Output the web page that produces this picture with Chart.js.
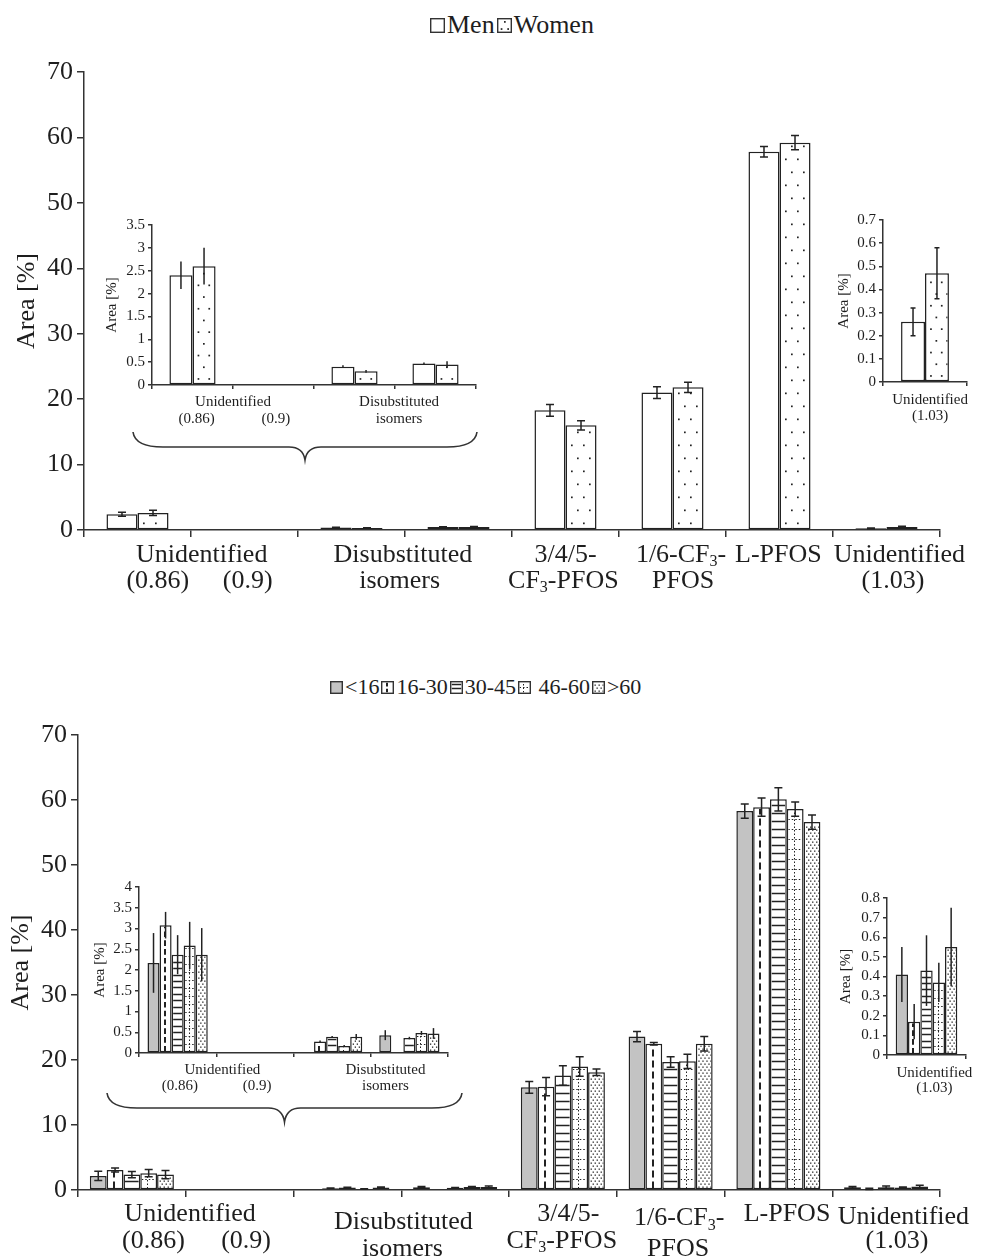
<!DOCTYPE html>
<html>
<head>
<meta charset="utf-8">
<script src="https://cdn.jsdelivr.net/npm/chart.js@4/dist/chart.umd.min.js"></script>
<style>
body { margin:0; background:#fff; width:987px; height:1256px; position:relative; overflow:hidden;
       font-family:"Liberation Serif","Times New Roman",serif; color:#1e1e1e; }
canvas.c { position:absolute; }
.legend { position:absolute; display:flex; align-items:center; white-space:nowrap; line-height:1; }
.legend canvas { margin-right:2px; }
.legend span { margin-right:2px; white-space:pre; }
</style>
</head>
<body>
<div class="legend" id="legTop" style="left:430px;top:12px;font-size:26px"></div>
<div class="legend" id="legBottom" style="left:330px;top:676px;font-size:22px"></div>
<canvas class="c" id="topMain"></canvas>
<canvas class="c" id="topInsetL"></canvas>
<canvas class="c" id="topInsetR"></canvas>
<canvas class="c" id="bottomMain"></canvas>
<canvas class="c" id="bottomInsetL"></canvas>
<canvas class="c" id="bottomInsetR"></canvas>
<script>
// ---- data ----
var categories = ["Unidentified (0.86)", "Unidentified (0.9)", "Disubstituted isomers a", "Disubstituted isomers b",
                  "3/4/5-CF3-PFOS", "1/6-CF3-PFOS", "L-PFOS", "Unidentified (1.03)"];

var sexLabels = ["Men", "Women"];
var menVals   = [2.4, null, 0.40, 0.47, 18.3, 21.0, 57.8, 0.26];
var menErr    = [0.3, null, 0.03, 0.02, 0.9, 0.9, 0.8, 0.06];
var womenVals = [2.6, null, 0.30, 0.45, 16.0, 21.8, 59.2, 0.47];
var womenErr  = [0.4, null, 0.03, 0.07, 0.7, 0.8, 1.1, 0.11];

var ageLabels = ["<16", "16-30", "30-45", " 46-60", ">60"];
var ageLt16   = [2.17, null, null, 0.43, 15.8, 23.6, 58.3, 0.41];
var ageLt16E  = [0.72, null, null, 0.12, 0.9, 0.8, 1.1, 0.14];
var age16_30  = [3.08, null, 0.28, null, 15.9, 22.5, 58.9, 0.17];
var age16_30E = [0.32, null, 0.02, null, 1.4, 0.2, 1.4, 0.09];
var age30_45  = [2.37, null, 0.39, 0.36, 17.6, 19.7, 60.1, 0.43];
var age30_45E = [0.47, null, 0.02, 0.03, 1.5, 0.8, 1.8, 0.18];
var age46_60  = [2.59, null, 0.17, 0.48, 19.0, 19.8, 58.6, 0.37];
var age46_60E = [0.57, null, 0.02, 0.05, 1.5, 1.1, 1.1, 0.10];
var ageGt60   = [2.37, null, 0.39, 0.47, 18.1, 22.5, 56.6, 0.55];
var ageGt60E  = [0.64, null, 0.07, 0.13, 0.5, 1.1, 1.1, 0.20];

// x label layout (at = category index, may be fractional)
var topMainText = [
  {t:"Unidentified", at:0.6, line:0}, {t:"(0.86)", at:0.19, line:1}, {t:"(0.9)", at:1.03, line:1},
  {t:"Disubstituted", at:2.48, line:0}, {t:"isomers", at:2.45, line:1},
  {t:"3/4/5-", at:4.0, line:0}, {t:"CF_3-PFOS", at:3.98, line:1},
  {t:"1/6-CF_3-", at:5.08, line:0}, {t:"PFOS", at:5.1, line:1},
  {t:"L-PFOS", at:5.99, line:0},
  {t:"Unidentified", at:7.12, line:0}, {t:"(1.03)", at:7.06, line:1}
];
var bottomMainText = [
  {t:"Unidentified", at:0.54, line:0}, {t:"(0.86)", at:0.2, line:1}, {t:"(0.9)", at:1.06, line:1},
  {t:"Disubstituted", at:2.52, line:0.3}, {t:"isomers", at:2.51, line:1.3},
  {t:"3/4/5-", at:4.05, line:0}, {t:"CF_3-PFOS", at:3.99, line:1},
  {t:"1/6-CF_3-", at:5.08, line:0.15}, {t:"PFOS", at:5.07, line:1.3},
  {t:"L-PFOS", at:6.08, line:0},
  {t:"Unidentified", at:7.16, line:0.1}, {t:"(1.03)", at:7.1, line:1}
];
var topInsetLText = [
  {t:"Unidentified", at:0.5, line:0}, {t:"(0.86)", at:0.05, line:1}, {t:"(0.9)", at:1.03, line:1},
  {t:"Disubstituted", at:2.55, line:0}, {t:"isomers", at:2.55, line:1}
];
var bottomInsetLText = [
  {t:"Unidentified", at:0.58, line:0}, {t:"(0.86)", at:0.03, line:1}, {t:"(0.9)", at:1.03, line:1},
  {t:"Disubstituted", at:2.69, line:0}, {t:"isomers", at:2.69, line:1}
];
var topInsetRText = [{t:"Unidentified", at:0.06, line:0}, {t:"(1.03)", at:0.06, line:1}];
var bottomInsetRText = [{t:"Unidentified", at:0.1, line:0}, {t:"(1.03)", at:0.1, line:1}];

var FONT = '"Liberation Serif","Times New Roman",serif';
var INK = '#1e1e1e';

// ---- fills ----
function drawHatch(ctx, style, x0, y0, x1, y1, k) {
  k = k || 1;
  var w = x1 - x0, x, y, r;
  if (!style || w <= 0 || y1 - y0 <= 0) return;
  ctx.save();
  ctx.beginPath(); ctx.rect(x0, y0, w, y1 - y0); ctx.clip();
  ctx.fillStyle = '#222'; ctx.strokeStyle = '#222';
  if (style === 'dots') {
    r = 0;
    for (y = y1 - 6 * k; y > y0; y -= 13 * k, r++) {
      for (x = x0 + 4 * k + (r % 2 ? 6 * k : 0); x < x1 - 1; x += 12 * k) ctx.fillRect(x, y, 1.7, 1.7);
    }
  } else if (style === 'dash') {
    ctx.lineWidth = 2; ctx.setLineDash([7 * k, 4 * k]);
    x = Math.round(x0 + w * 0.42);
    ctx.beginPath(); ctx.moveTo(x, y1); ctx.lineTo(x, y0); ctx.stroke();
  } else if (style === 'hlines') {
    ctx.lineWidth = 1.4;
    for (y = y1 - 8 * k; y > y0; y -= 8 * k) {
      ctx.beginPath(); ctx.moveTo(x0, Math.round(y) + 0.5); ctx.lineTo(x1, Math.round(y) + 0.5); ctx.stroke();
    }
  } else if (style === 'grid') {
    ctx.lineWidth = 1; ctx.setLineDash([1.5, 2]);
    for (y = y1 - 10 * k; y > y0; y -= 10 * k) {
      ctx.beginPath(); ctx.moveTo(x0, Math.round(y) + 0.5); ctx.lineTo(x1, Math.round(y) + 0.5); ctx.stroke();
    }
    x = Math.round(x0 + w * 0.38) + 0.5;
    ctx.beginPath(); ctx.moveTo(x, y1); ctx.lineTo(x, y0); ctx.stroke();
  } else if (style === 'checker') {
    r = 0;
    for (y = y1 - 2; y > y0; y -= 3, r++) {
      for (x = x0 + (r % 2 ? 3 : 1); x < x1; x += 4) ctx.fillRect(x, y, 1.3, 1.3);
    }
  }
  ctx.restore();
}

var hatchPlugin = {
  id: 'hatch',
  afterDatasetsDraw: function(chart) {
    var ctx = chart.ctx;
    chart.data.datasets.forEach(function(ds, i) {
      if (!ds.hatch) return;
      chart.getDatasetMeta(i).data.forEach(function(el, j) {
        if (ds.data[j] == null) return;
        var b = ds.borderWidth;
        drawHatch(ctx, ds.hatch, el.x - el.width / 2 + b, Math.min(el.y, el.base) + b,
                  el.x + el.width / 2 - b, Math.max(el.y, el.base) - b / 2, ds.hatchK);
      });
    });
  }
};

function errorPlugin(cap) {
  return {
    id: 'errorBars',
    afterDatasetsDraw: function(chart) {
      var ctx = chart.ctx, ys = chart.scales.y;
      ctx.save(); ctx.strokeStyle = '#222'; ctx.lineWidth = 1.5;
      chart.data.datasets.forEach(function(ds, i) {
        if (!ds.errors) return;
        chart.getDatasetMeta(i).data.forEach(function(el, j) {
          var v = ds.data[j], e = ds.errors[j];
          if (v == null || e == null) return;
          var yt = ys.getPixelForValue(v + e), yb = ys.getPixelForValue(v - e);
          ctx.beginPath();
          ctx.moveTo(el.x, yt); ctx.lineTo(el.x, yb);
          if (cap) {
            ctx.moveTo(el.x - cap / 2, yt); ctx.lineTo(el.x + cap / 2, yt);
            ctx.moveTo(el.x - cap / 2, yb); ctx.lineTo(el.x + cap / 2, yb);
          }
          ctx.stroke();
        });
      });
      ctx.restore();
    }
  };
}

// text with "_3" style subscripts
function drawRich(ctx, text, cx, cy, size) {
  var parts = text.split(/_(\d)/), widths = [], total = 0, i;
  for (i = 0; i < parts.length; i++) {
    ctx.font = (i % 2 ? Math.round(size * 0.62) : size) + 'px ' + FONT;
    widths.push(ctx.measureText(parts[i]).width); total += widths[i];
  }
  var x = cx - total / 2;
  for (i = 0; i < parts.length; i++) {
    ctx.font = (i % 2 ? Math.round(size * 0.62) : size) + 'px ' + FONT;
    ctx.fillText(parts[i], x, i % 2 ? cy + size * 0.28 : cy);
    x += widths[i];
  }
}

function textPlugin(items, size, first, gap) {
  return {
    id: 'xText',
    afterDraw: function(chart) {
      var ctx = chart.ctx, xs = chart.scales.x, base = chart.chartArea.bottom;
      ctx.save(); ctx.fillStyle = INK; ctx.textAlign = 'left'; ctx.textBaseline = 'middle';
      items.forEach(function(it) {
        drawRich(ctx, it.t, xs.getPixelForValue(it.at), base + first + it.line * gap, size);
      });
      ctx.restore();
    }
  };
}

function bracePlugin(b) {
  return {
    id: 'brace',
    afterDraw: function(chart) {
      if (!b) return;
      var a = chart.chartArea, ctx = chart.ctx;
      var L = a.left + b.dl, R = a.right + b.dr, M = (L + R) / 2;
      var y0 = a.bottom + b.y0, y1 = a.bottom + b.y1, y2 = a.bottom + b.y2;
      ctx.save(); ctx.strokeStyle = '#333'; ctx.lineWidth = 1.6;
      ctx.beginPath();
      ctx.moveTo(L, y0);
      ctx.quadraticCurveTo(L + 2, y1, L + 30, y1);
      ctx.lineTo(M - 16, y1);
      ctx.quadraticCurveTo(M - 2, y1, M, y2);
      ctx.quadraticCurveTo(M + 2, y1, M + 16, y1);
      ctx.lineTo(R - 30, y1);
      ctx.quadraticCurveTo(R - 2, y1, R, y0);
      ctx.stroke();
      ctx.restore();
    }
  };
}

function series(label, vals, errs, fill, hatch, pct, k, idx) {
  return {
    label: label,
    data: idx.map(function(i) { return vals[i]; }),
    errors: idx.map(function(i) { return errs[i]; }),
    backgroundColor: fill, borderColor: '#222', borderWidth: 1.5, borderSkipped: false,
    categoryPercentage: pct, barPercentage: 1, hatch: hatch, hatchK: k
  };
}

function sexSets(idx, pct, k) {
  return [
    series(sexLabels[0], menVals, menErr, '#fff', null, pct, k, idx),
    series(sexLabels[1], womenVals, womenErr, '#fff', 'dots', pct, k, idx)
  ];
}
function ageSets(idx, pct, k) {
  return [
    series(ageLabels[0], ageLt16, ageLt16E, '#c3c3c3', null, pct, k, idx),
    series(ageLabels[1], age16_30, age16_30E, '#fff', 'dash', pct, k, idx),
    series(ageLabels[2], age30_45, age30_45E, '#fff', 'hlines', pct, k, idx),
    series(ageLabels[3], age46_60, age46_60E, '#fff', 'grid', pct, k, idx),
    series(ageLabels[4], ageGt60, ageGt60E, '#fff', 'checker', pct, k, idx)
  ];
}

function barChart(id, box, area, idx, sets, o) {
  var cv = document.getElementById(id);
  cv.width = box.w; cv.height = box.h;
  cv.style.left = box.x + 'px'; cv.style.top = box.y + 'px';
  return new Chart(cv, {
    type: 'bar',
    data: { labels: idx.map(function(i) { return categories[i]; }), datasets: sets },
    options: {
      responsive: false, animation: false, devicePixelRatio: 1,
      layout: { padding: { left: 0, top: area.t - box.y, right: box.x + box.w - area.r, bottom: 0 } },
      plugins: { legend: { display: false }, tooltip: { enabled: false } },
      scales: {
        x: {
          grid: { offset: true, drawOnChartArea: false, color: '#333', lineWidth: 1.5, tickLength: o.tick },
          border: { color: '#333', width: 1.5 },
          ticks: { display: false },
          afterFit: function(s) { s.height = box.y + box.h - area.b; }
        },
        y: {
          min: 0, max: o.max,
          ticks: { stepSize: o.step, autoSkip: false, color: INK, padding: o.pad, font: { family: FONT, size: o.font },
                   callback: function(v) { return String(Math.round(v * 100) / 100); } },
          grid: { drawOnChartArea: false, color: '#333', lineWidth: 1.5, tickLength: o.tick },
          border: { color: '#333', width: 1.5 },
          title: { display: true, text: 'Area [%]', color: INK, font: { family: FONT, size: o.font },
                   padding: { top: o.titlePad, bottom: 0 } },
          afterFit: function(s) { s.width = area.l - box.x; }
        }
      }
    },
    plugins: [hatchPlugin, errorPlugin(o.cap), textPlugin(o.text, o.textSize, o.first, o.gap), bracePlugin(o.brace)]
  });
}

var all = [0, 1, 2, 3, 4, 5, 6, 7];

barChart('topMain', {x:0, y:45, w:987, h:560}, {l:84, t:72, r:940, b:530}, all, sexSets(all, 0.58, 1),
  {max:70, step:10, font:26, pad:4, tick:7, titlePad:12, cap:8, text:topMainText, textSize:26, first:25, gap:26});
barChart('topInsetL', {x:95, y:205, w:395, h:265}, {l:152, t:225, r:476, b:385}, [0, 1, 2, 3], sexSets([0, 1, 2, 3], 0.57, 0.9),
  {max:3.5, step:0.5, font:15, pad:3, tick:4, titlePad:8, cap:0, text:topInsetLText, textSize:15, first:17, gap:17,
   brace:{dl:-19, dr:1, y0:47, y1:62, y2:75}});
barChart('topInsetR', {x:835, y:205, w:152, h:230}, {l:883, t:220, r:967, b:382}, [7], sexSets([7], 0.57, 0.9),
  {max:0.7, step:0.1, font:15, pad:3, tick:4, titlePad:0, cap:5, text:topInsetRText, textSize:15, first:18, gap:16});

barChart('bottomMain', {x:0, y:712, w:987, h:544}, {l:78, t:735, r:940, b:1190}, all, ageSets(all, 0.78, 1),
  {max:70, step:10, font:26, pad:4, tick:7, titlePad:6, cap:8, text:bottomMainText, textSize:26, first:24, gap:27});
barChart('bottomInsetL', {x:85, y:870, w:380, h:260}, {l:139, t:887, r:448, b:1053}, [0, 1, 2, 3], ageSets([0, 1, 2, 3], 0.78, 0.8),
  {max:4, step:0.5, font:15, pad:3, tick:4, titlePad:6, cap:0, text:bottomInsetLText, textSize:15, first:17, gap:16,
   brace:{dl:-32, dr:14, y0:40, y1:55, y2:69}});
barChart('bottomInsetR', {x:835, y:880, w:152, h:225}, {l:887, t:898, r:966, b:1055}, [7], ageSets([7], 0.78, 0.8),
  {max:0.8, step:0.1, font:15, pad:3, tick:4, titlePad:2, cap:0, text:bottomInsetRText, textSize:15, first:18, gap:15});

// ---- legends ----
function buildLegend(id, labels, fills, hatches, size) {
  var el = document.getElementById(id);
  labels.forEach(function(lb, i) {
    var c = document.createElement('canvas'); c.width = size; c.height = size;
    var g = c.getContext('2d');
    g.fillStyle = fills[i]; g.fillRect(0, 0, size, size);
    drawHatch(g, hatches[i], 1.5, 1.5, size - 1.5, size - 1.5, 0.55);
    g.strokeStyle = '#333'; g.lineWidth = 1.4; g.strokeRect(0.7, 0.7, size - 1.4, size - 1.4);
    el.appendChild(c);
    var s = document.createElement('span'); s.textContent = lb; el.appendChild(s);
  });
}
buildLegend('legTop', sexLabels, ['#fff', '#fff'], [null, 'dots'], 15);
buildLegend('legBottom', ageLabels, ['#c3c3c3', '#fff', '#fff', '#fff', '#fff'], [null, 'dash', 'hlines', 'grid', 'checker'], 13);
</script>
</body>
</html>
